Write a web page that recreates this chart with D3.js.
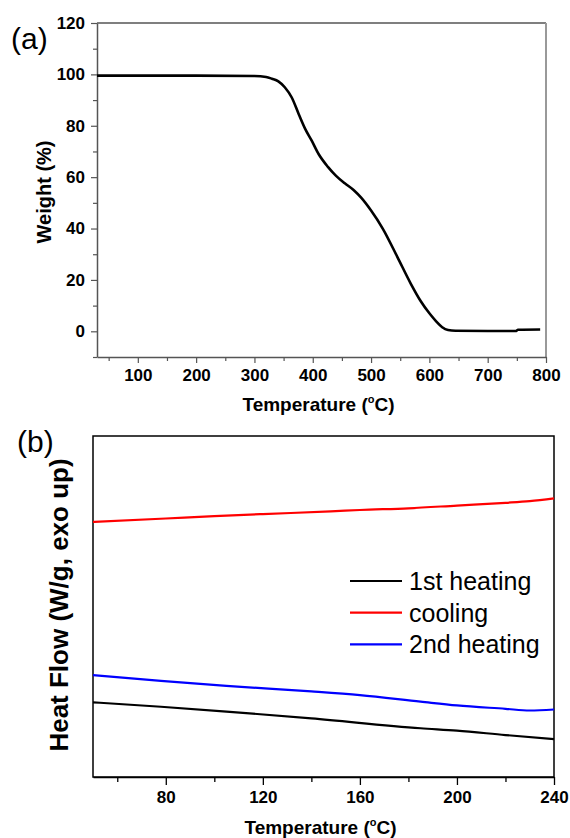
<html>
<script src='https://d3js.org/d3.v7.min.js'></script>
<style>
body {margin: 0; background: white;}
text {font-family: Arial, "Liberation Sans", sans-serif;}
</style>
<body>
<svg width=570 height=838></svg>
<script>

// (a) TGA curve
var tgaTemp   = [30, 100, 200, 300, 320, 330, 341, 352, 364, 376, 387, 398, 410, 426, 440, 455, 470, 483, 500, 520, 545, 568, 585, 600, 612, 622, 632, 645, 700, 748, 752, 790];
var tgaWeight = [99.5, 99.5, 99.5, 99.4, 99.0, 98.3, 97.3, 95.0, 91.0, 84.5, 78.8, 74.3, 69.0, 64.0, 60.5, 57.6, 55.0, 52.0, 47.0, 40.0, 29.0, 18.6, 11.8, 7.0, 3.8, 1.6, 0.5, 0.2, 0.1, 0.1, 0.6, 0.7];
var tgaXTicks = [100, 200, 300, 400, 500, 600, 700, 800];
var tgaYTicks = [0, 20, 40, 60, 80, 100, 120];

// (b) DSC curves (arbitrary units)
var dscSeries = ["1st heating", "cooling", "2nd heating"];
var dscColors = ["black", "red", "blue"];
var heat1Temp = [50, 78, 105, 140, 185, 200, 220, 240];
var heat1Flow = [21.9, 20.6, 19.2, 17.2, 14.3, 13.6, 12.3, 11.1];
var coolTemp  = [50, 80, 100, 120, 148, 160, 180, 200, 220, 230, 240];
var coolFlow  = [74.8, 75.8, 76.5, 77.1, 77.9, 78.3, 78.8, 79.6, 80.4, 80.9, 81.7];
var heat2Temp = [50, 78, 105, 140, 160, 185, 200, 220, 230, 240];
var heat2Flow = [29.9, 28.2, 26.7, 25.1, 24.0, 22.1, 21.0, 20.0, 19.5, 19.8];
var dscXTicks = [80, 120, 160, 200, 240];

var svg = d3.select("svg");

// ---------- panel (a) ----------
var ax = {left: 97, right: 546, top: 23, bottom: 357};
var x1 = d3.scaleLinear().domain([30, 800]).range([ax.left, ax.right]);
var y1 = d3.scaleLinear().domain([-10, 120]).range([ax.bottom, ax.top]);

// frame
svg.append("line").attr("x1", ax.left).attr("x2", ax.right).attr("y1", ax.top).attr("y2", ax.top)
   .attr("stroke", "#555").attr("stroke-width", 1.3);
svg.append("line").attr("x1", ax.right).attr("x2", ax.right).attr("y1", ax.top).attr("y2", ax.bottom)
   .attr("stroke", "#999").attr("stroke-width", 2);

var xa1 = svg.append("g").attr("transform", "translate(0," + ax.bottom + ")")
   .call(d3.axisBottom(x1).tickValues(tgaXTicks).tickSize(6).tickSizeOuter(0).tickPadding(6));
var xm1 = svg.append("g").attr("transform", "translate(0," + ax.bottom + ")")
   .call(d3.axisBottom(x1).tickValues(d3.range(50, 800, 100)).tickSize(4).tickFormat(""));
var ya1 = svg.append("g").attr("transform", "translate(" + ax.left + ",0)")
   .call(d3.axisLeft(y1).tickValues(tgaYTicks).tickSize(6).tickSizeOuter(0).tickPadding(6));
var ym1 = svg.append("g").attr("transform", "translate(" + ax.left + ",0)")
   .call(d3.axisLeft(y1).tickValues(d3.range(-10, 120, 20)).tickSize(4).tickFormat(""));

[xa1, xm1, ya1, ym1].forEach(function(g) {
  g.selectAll("path").attr("stroke", "#555").attr("stroke-width", 1.5);
  g.selectAll("line").attr("stroke", "#555").attr("stroke-width", 1.2);
  g.selectAll("text").attr("font-size", 17).attr("font-weight", "bold")
   .attr("fill", "black").attr("font-family", "Arial, 'Liberation Sans', sans-serif");
});
xm1.select("path").remove();
ym1.select("path").remove();

svg.append("path")
   .datum(d3.zip(tgaTemp, tgaWeight))
   .attr("fill", "none").attr("stroke", "black").attr("stroke-width", 2.6)
   .attr("d", d3.line().x(d => x1(d[0])).y(d => y1(d[1])).curve(d3.curveMonotoneX));

svg.append("text").text("(a)").attr("x", 11).attr("y", 49).attr("font-size", 30);

var t1 = svg.append("text").attr("x", (ax.left + ax.right) / 2 - 3).attr("y", 411)
   .attr("text-anchor", "middle").attr("font-size", 19).attr("font-weight", "bold");
t1.append("tspan").text("Temperature (");
t1.append("tspan").text("o").attr("font-size", 11).attr("dy", -8);
t1.append("tspan").text("C)").attr("dy", 8);

svg.append("text").text("Weight (%)")
   .attr("transform", "translate(51,192) rotate(-90)")
   .attr("text-anchor", "middle").attr("font-size", 20).attr("font-weight", "bold");

// ---------- panel (b) ----------
var bx = {left: 93, right: 554, top: 436, bottom: 777};
var x2 = d3.scaleLinear().domain([50, 240]).range([bx.left, bx.right]);
var y2 = d3.scaleLinear().domain([0, 100]).range([bx.bottom, bx.top]);

svg.append("rect").attr("x", bx.left).attr("y", bx.top)
   .attr("width", bx.right - bx.left).attr("height", bx.bottom - bx.top)
   .attr("fill", "none").attr("stroke", "black").attr("stroke-width", 1.5);

var xa2 = svg.append("g").attr("transform", "translate(0," + bx.bottom + ")")
   .call(d3.axisBottom(x2).tickValues(dscXTicks).tickSize(8).tickSizeOuter(0).tickPadding(6));
var xm2 = svg.append("g").attr("transform", "translate(0," + bx.bottom + ")")
   .call(d3.axisBottom(x2).tickValues([60, 100, 140, 180, 220]).tickSize(5).tickFormat(""));
[xa2, xm2].forEach(function(g) {
  g.selectAll("path").attr("stroke", "black").attr("stroke-width", 1.5);
  g.selectAll("line").attr("stroke", "black").attr("stroke-width", 1.3);
  g.selectAll("text").attr("font-size", 17).attr("font-weight", "bold")
   .attr("fill", "black").attr("font-family", "Arial, 'Liberation Sans', sans-serif");
});
xm2.select("path").remove();

var dscData = [d3.zip(heat1Temp, heat1Flow), d3.zip(coolTemp, coolFlow), d3.zip(heat2Temp, heat2Flow)];
var line2 = d3.line().x(d => x2(d[0])).y(d => y2(d[1])).curve(d3.curveMonotoneX);
dscData.forEach(function(s, i) {
  svg.append("path").datum(s)
     .attr("fill", "none").attr("stroke", dscColors[i]).attr("stroke-width", 2.2)
     .attr("d", line2);
});

// legend
var leg = svg.append("g").attr("transform", "translate(350,581)");
dscSeries.forEach(function(name, i) {
  leg.append("line").attr("x1", 0).attr("x2", 52).attr("y1", i * 31.7).attr("y2", i * 31.7)
     .attr("stroke", dscColors[i]).attr("stroke-width", 2.2);
  leg.append("text").text(name).attr("x", 59).attr("y", i * 31.7 + 9).attr("font-size", 25);
});

svg.append("text").text("(b)").attr("x", 17).attr("y", 452).attr("font-size", 30);

var t2 = svg.append("text").attr("x", (bx.left + bx.right) / 2 - 3).attr("y", 834)
   .attr("text-anchor", "middle").attr("font-size", 19).attr("font-weight", "bold");
t2.append("tspan").text("Temperature (");
t2.append("tspan").text("o").attr("font-size", 11).attr("dy", -8);
t2.append("tspan").text("C)").attr("dy", 8);

svg.append("text").text("Heat Flow (W/g, exo up)")
   .attr("transform", "translate(68,605) rotate(-90)")
   .attr("text-anchor", "middle").attr("font-size", 26).attr("font-weight", "bold");

</script>
</body>
</html>
